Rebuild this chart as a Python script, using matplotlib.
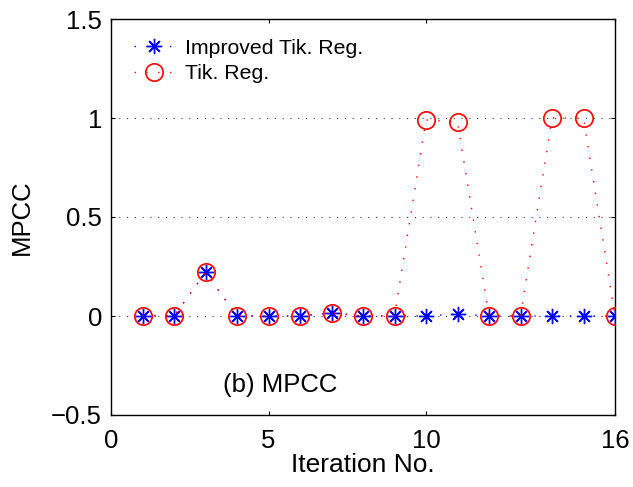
import matplotlib
matplotlib.use("Agg")
import matplotlib.pyplot as plt

plt.rcParams['font.family'] = ['Liberation Sans', 'DejaVu Sans']

iterations = list(range(1, 17))
improved_tik = [0, 0, 0.22, 0, 0, 0, 0.015, 0, 0, 0, 0.01, 0, 0, 0, 0, 0]
tik_reg = [0, 0, 0.22, 0, 0, 0, 0.015, 0, 0, 0.99, 0.98, 0, 0, 1.0, 1.0, 0]
x_ticks = [0, 5, 10, 16]
y_ticks = [-0.5, 0, 0.5, 1, 1.5]

fig = plt.figure(figsize=(6.33, 4.87), dpi=100)
ax = fig.add_axes([111 / 633, (487 - 415) / 487, (615 - 111) / 633, (415 - 19) / 487])

dotted = (0, (1.0, 7.5))
ax.plot(iterations, improved_tik, color='blue', linestyle=dotted, linewidth=1.0,
        marker=(8, 2, 0), markersize=11, markeredgewidth=1.0,
        label='Improved Tik. Reg.', zorder=3)
ax.plot(iterations, tik_reg, color='red', linestyle=dotted, linewidth=1.0,
        marker='o', markersize=12.5, markerfacecolor='none', markeredgewidth=1.2,
        label='Tik. Reg.', zorder=4)

ax.set_xlim(0, 16)
ax.set_ylim(-0.5, 1.5)
ax.set_xticks(x_ticks)
ax.set_yticks(y_ticks)
ax.set_yticklabels(['\u22120.5', '0', '0.5', '1', '1.5'])
ax.yaxis.grid(True, color='#333333', linestyle=(0, (1, 6)), linewidth=0.8)
ax.xaxis.grid(False)
ax.tick_params(direction='in', length=3, width=0.8, top=True, right=True,
               labelsize=18.5)
ax.tick_params(axis='y', pad=6.5)
ax.tick_params(axis='x', pad=10)
for spine in ax.spines.values():
    spine.set_linewidth(1.0)

ax.set_xlabel('Iteration No.', fontsize=19, labelpad=0)
ax.set_ylabel('MPCC', fontsize=18.5, labelpad=12.5)

ax.text(3.55, -0.35, '(b) MPCC', fontsize=18.5, ha='left', va='center')

ax.legend(loc='upper left', bbox_to_anchor=(0.046, 0.95), frameon=False,
          fontsize=15.3, handlelength=1.9, handletextpad=0.48, labelspacing=0.3,
          borderpad=0, borderaxespad=0)

fig.savefig('out.png', dpi=100)
